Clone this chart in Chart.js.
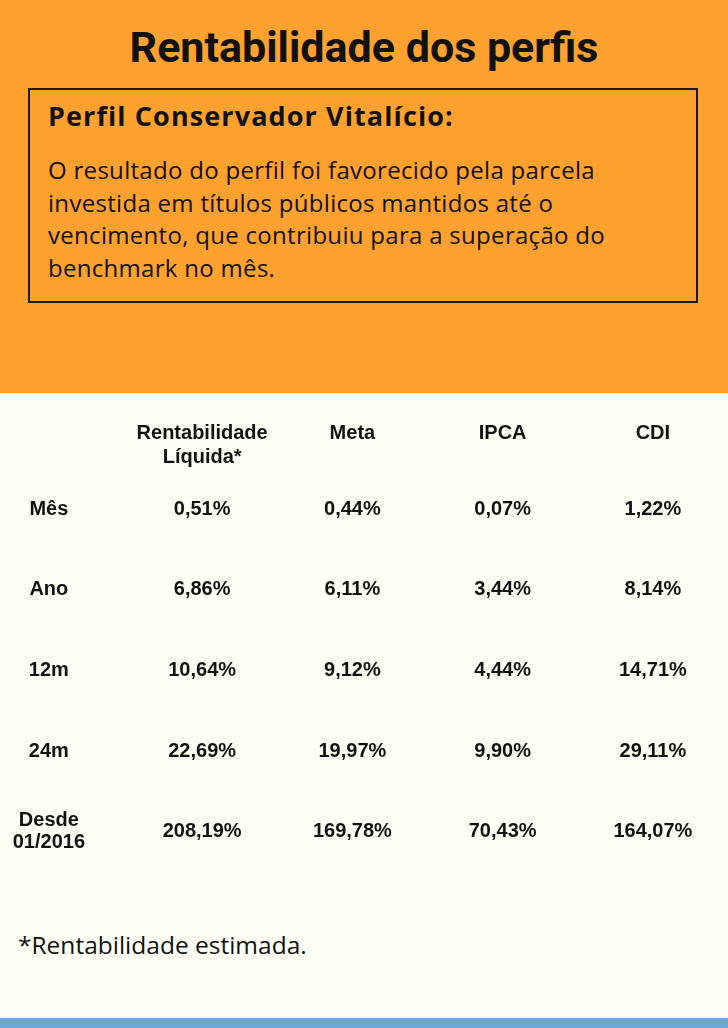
<!DOCTYPE html>
<html lang="pt-BR">
<head>
<meta charset="utf-8">
<script src="https://cdn.jsdelivr.net/npm/chart.js@4.4.1/dist/chart.umd.min.js"></script>
<style>
  html, body { margin: 0; padding: 0; }
  body {
    width: 728px; height: 1028px; position: relative; overflow: hidden;
    background: #fefff4; font-family: Roboto, sans-serif; color: #111;
  }
  .top { position: absolute; left: 0; top: 0; width: 728px; height: 393px; background: #ffa12f; }
  .top h1 {
    position: absolute; left: 0; top: 22px; width: 728px; margin: 0;
    text-align: center; font-size: 43px; font-weight: 700; line-height: 50px;
  }
  .box {
    position: absolute; left: 28px; top: 88px; width: 670px; height: 215px;
    border: 2px solid #1a1a1a; box-sizing: border-box;
  }
  .box h2 {
    margin: 0; position: absolute; left: 18px; top: 7px;
    font-family: 'Open Sans', sans-serif; font-size: 27px; font-weight: 700;
    line-height: 38px; letter-spacing: 1.1px;
  }
  .box p {
    margin: 0; position: absolute; left: 18px; top: 64px;
    font-family: 'Open Sans', sans-serif; font-size: 24px; line-height: 32.7px;
    letter-spacing: 0.3px;
  }
  .chartWrap { position: absolute; left: 0; top: 393px; width: 728px; height: 532px; }
  .note {
    position: absolute; left: 18px; top: 930px;
    font-family: 'Open Sans', sans-serif; font-size: 24.5px; line-height: 30px;
  }
  .strip { position: absolute; left: 0; top: 1018px; width: 728px; height: 10px; background: #6ca5d6; }
</style>
</head>
<body>
<div class="top">
  <h1>Rentabilidade dos perfis</h1>
  <div class="box">
    <h2>Perfil Conservador Vitalício:</h2>
    <p>O resultado do perfil foi favorecido pela parcela<br>investida em títulos públicos mantidos até o<br>vencimento, que contribuiu para a superação do<br>benchmark no mês.</p>
  </div>
</div>
<div class="chartWrap"><canvas id="tabela"></canvas></div>
<div class="note">*Rentabilidade estimada.</div>
<div class="strip"></div>

<script>
const columns = ['Rentabilidade Líquida*', 'Meta', 'IPCA', 'CDI'];
const periods = ['Mês', 'Ano', '12m', '24m', 'Desde 01/2016'];

const rentabilidadeLiquida = [0.51, 6.86, 10.64, 22.69, 208.19];
const meta = [0.44, 6.11, 9.12, 19.97, 169.78];
const ipca = [0.07, 3.44, 4.44, 9.90, 70.43];
const cdi = [1.22, 8.14, 14.71, 29.11, 164.07];

const series = [rentabilidadeLiquida, meta, ipca, cdi];

const tableFont = "'Liberation Sans', Arial, sans-serif";

const fmt = (v) => v.toLocaleString('pt-BR', { minimumFractionDigits: 2, maximumFractionDigits: 2 }) + '%';

// long labels go on two lines
const twoLines = (label) => label.indexOf(' ') > 0 ? label.split(' ') : label;

// each column becomes a dataset of invisible points, one per period
const datasets = series.map((values, col) => ({
    label: columns[col],
    data: values.map((v, row) => ({ x: columns[col], y: periods[row], v: v })),
    showLine: false,
    pointRadius: 0,
    pointHoverRadius: 0
}));

// write the values in the cells at the positions the scales give
const cellText = {
    id: 'cellText',
    afterDatasetsDraw(chart) {
        const ctx = chart.ctx;
        ctx.save();
        ctx.font = '700 20px ' + tableFont;
        ctx.fillStyle = '#111';
        ctx.textAlign = 'center';
        ctx.textBaseline = 'middle';
        chart.data.datasets.forEach((ds, i) => {
            chart.getDatasetMeta(i).data.forEach((pt, j) => {
                ctx.fillText(fmt(ds.data[j].v), pt.x, pt.y);
            });
        });
        ctx.restore();
    }
};

const ctx = document.getElementById('tabela').getContext('2d');
new Chart(ctx, {
    type: 'line',
    data: { datasets: datasets },
    plugins: [cellText],
    options: {
        responsive: true,
        maintainAspectRatio: false,
        animation: false,
        layout: { padding: { top: 0, bottom: 24, left: 0, right: 0 } },
        plugins: {
            legend: { display: false },
            tooltip: { enabled: false }
        },
        scales: {
            x: {
                type: 'category',
                position: 'top',
                labels: columns,
                offset: true,
                afterFit: (scale) => { scale.height = 76; },
                grid: { display: false, drawTicks: false },
                border: { display: false },
                ticks: {
                    callback: function (value) { return twoLines(this.getLabelForValue(value)); },
                    crossAlign: 'far',
                    maxRotation: 0,
                    autoSkip: false,
                    padding: 0,
                    color: '#111',
                    font: { family: tableFont, size: 20, weight: '700', lineHeight: 1.2 }
                }
            },
            y: {
                type: 'category',
                labels: periods,
                offset: true,
                afterFit: (scale) => { scale.width = 127; },
                grid: { display: false, drawTicks: false },
                border: { display: false },
                ticks: {
                    callback: function (value) { return twoLines(this.getLabelForValue(value)); },
                    crossAlign: 'center',
                    autoSkip: false,
                    padding: 42,
                    color: '#111',
                    font: { family: tableFont, size: 20, weight: '700', lineHeight: 1.1 }
                }
            }
        }
    }
});
</script>
</body>
</html>
